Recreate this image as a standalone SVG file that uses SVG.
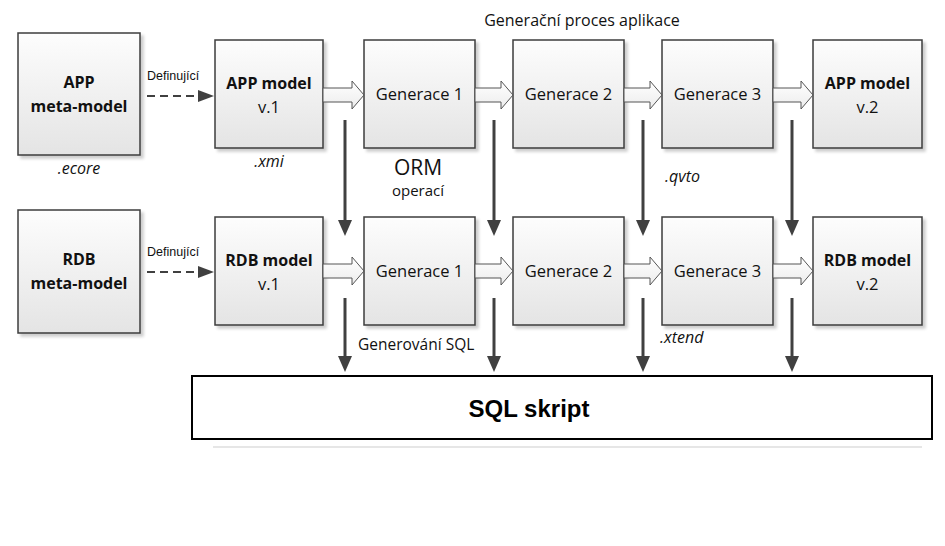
<svg xmlns="http://www.w3.org/2000/svg" width="945" height="546" viewBox="0 0 945 546">
<defs>
<linearGradient id="g" x1="0" y1="0" x2="0" y2="1">
<stop offset="0" stop-color="#fdfdfd"/>
<stop offset="1" stop-color="#e4e4e4"/>
</linearGradient>
<linearGradient id="ga" x1="0" y1="0" x2="0" y2="1">
<stop offset="0" stop-color="#ffffff"/>
<stop offset="1" stop-color="#ececec"/>
</linearGradient>
<filter id="sh" x="-10%" y="-10%" width="130%" height="130%">
<feGaussianBlur in="SourceAlpha" stdDeviation="1.5"/>
<feOffset dx="2.5" dy="2.5" result="b"/>
<feComponentTransfer><feFuncA type="linear" slope="0.2"/></feComponentTransfer>
<feMerge><feMergeNode/><feMergeNode in="SourceGraphic"/></feMerge>
</filter>
</defs>
<style>
.box{fill:url(#g);stroke:#3c3c3c;stroke-width:1.5;filter:url(#sh)}
.bold{font-family:"Open Sans","Noto Sans",sans-serif;font-weight:bold;font-size:16px;fill:#111;text-anchor:middle}
.reg{font-family:"Open Sans","Noto Sans",sans-serif;font-size:16.5px;fill:#111;text-anchor:middle}
.it{font-family:"Open Sans","Noto Sans",sans-serif;font-style:italic;font-size:16px;fill:#111}
.def{font-family:"Liberation Sans",Arial,sans-serif;font-size:12.5px;fill:#111}
.blk{fill:url(#ga);stroke:#555;stroke-width:1}
.vl{stroke:#404040;stroke-width:3;fill:none}
.vh{fill:#404040}
.dash{stroke:#404040;stroke-width:2;stroke-dasharray:8,5;fill:none}
</style>

<text x="582" y="26" class="reg" style="font-size:16px">Generační proces aplikace</text>

<g id="app-meta"><rect class="box" x="18" y="33" width="122" height="122"/>
<text x="79" y="88" class="bold">APP</text><text x="79" y="112" class="bold">meta-model</text></g>
<g id="app-v1"><rect class="box" x="215" y="40" width="108" height="108"/>
<text x="269" y="89" class="bold">APP model</text><text x="269" y="113" class="reg">v.1</text></g>
<g id="app-g1"><rect class="box" x="364" y="40" width="111" height="108"/><text x="419.5" y="100" class="reg">Generace 1</text></g>
<g id="app-g2"><rect class="box" x="513" y="40" width="111" height="108"/><text x="568.5" y="100" class="reg">Generace 2</text></g>
<g id="app-g3"><rect class="box" x="662" y="40" width="111" height="108"/><text x="717.5" y="100" class="reg">Generace 3</text></g>
<g id="app-v2"><rect class="box" x="813" y="40" width="109" height="108"/>
<text x="867.5" y="89" class="bold">APP model</text><text x="867.5" y="113" class="reg">v.2</text></g>

<g id="rdb-meta"><rect class="box" x="18" y="210" width="122" height="123"/>
<text x="79" y="265" class="bold">RDB</text><text x="79" y="289" class="bold">meta-model</text></g>
<g id="rdb-v1"><rect class="box" x="215" y="217" width="108" height="108"/>
<text x="269" y="266" class="bold">RDB model</text><text x="269" y="290" class="reg">v.1</text></g>
<g id="rdb-g1"><rect class="box" x="364" y="217" width="111" height="108"/><text x="419.5" y="277" class="reg">Generace 1</text></g>
<g id="rdb-g2"><rect class="box" x="513" y="217" width="111" height="108"/><text x="568.5" y="277" class="reg">Generace 2</text></g>
<g id="rdb-g3"><rect class="box" x="662" y="217" width="111" height="108"/><text x="717.5" y="277" class="reg">Generace 3</text></g>
<g id="rdb-v2"><rect class="box" x="813" y="217" width="109" height="108"/>
<text x="867.5" y="266" class="bold">RDB model</text><text x="867.5" y="290" class="reg">v.2</text></g>

<g id="sql"><line x1="213" y1="447" x2="922" y2="447" stroke="#e6e6e6" stroke-width="2"/>
<rect x="192" y="376" width="740" height="63" fill="#fff" stroke="#000" stroke-width="2"/>
<text x="529" y="417" font-family="'Liberation Sans',Arial,sans-serif" font-weight="bold" font-size="24" text-anchor="middle" fill="#000">SQL skript</text></g>

<g id="connectors">
<line class="dash" x1="147" y1="96" x2="200" y2="96"/><polygon class="vh" points="198,90 214,96 198,102"/>
<line class="dash" x1="147" y1="272" x2="200" y2="272"/><polygon class="vh" points="198,266 214,272 198,278"/>

<path class="blk" d="M323,88 H352 V81 L364,95 L352,109 V102 H323 Z"/>
<path class="blk" d="M475,88 H501 V81 L513,95 L501,109 V102 H475 Z"/>
<path class="blk" d="M624,88 H650 V81 L662,95 L650,109 V102 H624 Z"/>
<path class="blk" d="M773,88 H801 V81 L813,95 L801,109 V102 H773 Z"/>
<path class="blk" d="M323,264 H352 V257 L364,271 L352,285 V278 H323 Z"/>
<path class="blk" d="M475,264 H501 V257 L513,271 L501,285 V278 H475 Z"/>
<path class="blk" d="M624,264 H650 V257 L662,271 L650,285 V278 H624 Z"/>
<path class="blk" d="M773,264 H801 V257 L813,271 L801,285 V278 H773 Z"/>

<line class="vl" x1="345" y1="120" x2="345" y2="222"/><polygon class="vh" points="338,220 352,220 345,236"/>
<line class="vl" x1="494" y1="120" x2="494" y2="222"/><polygon class="vh" points="487,220 501,220 494,236"/>
<line class="vl" x1="643" y1="120" x2="643" y2="222"/><polygon class="vh" points="636,220 650,220 643,236"/>
<line class="vl" x1="792" y1="120" x2="792" y2="222"/><polygon class="vh" points="785,220 799,220 792,236"/>
<line class="vl" x1="345" y1="298" x2="345" y2="358"/><polygon class="vh" points="338,356 352,356 345,372"/>
<line class="vl" x1="494" y1="298" x2="494" y2="358"/><polygon class="vh" points="487,356 501,356 494,372"/>
<line class="vl" x1="643" y1="298" x2="643" y2="358"/><polygon class="vh" points="636,356 650,356 643,372"/>
<line class="vl" x1="792" y1="298" x2="792" y2="358"/><polygon class="vh" points="785,356 799,356 792,372"/>
</g>

<text x="147" y="80" class="def">Definující</text>
<text x="147" y="256" class="def">Definující</text>
<text x="79" y="174" class="it" style="text-anchor:middle">.ecore</text>
<text x="269" y="167" class="it" style="text-anchor:middle">.xmi</text>
<text x="418" y="175" class="reg" style="font-size:21px">ORM</text>
<text x="418" y="196" class="reg" style="font-size:15px">operací</text>
<text x="665" y="182" class="it">.qvto</text>
<text x="660" y="343" class="it">.xtend</text>
<text x="358" y="350" class="reg" style="font-size:15.5px;text-anchor:start">Generování SQL</text>
</svg>
